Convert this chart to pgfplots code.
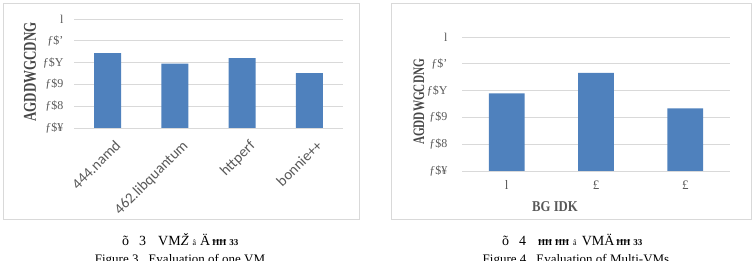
\documentclass[border=0pt]{standalone}
\usepackage{fontspec}
\setmainfont{Liberation Serif}
\newfontfamily\calfont{Carlito}
\usepackage{pgfplots}
\pgfplotsset{compat=1.18}
\definecolor{barblue}{HTML}{4F81BD}
\definecolor{gridgray}{HTML}{D9D9D9}
\definecolor{txtgray}{HTML}{595959}
\pgfplotsset{vmstyle/.style={
  scale only axis, ymin=0.95, ymax=1.0,
  ytick={0.95,0.96,0.97,0.98,0.99,1.0},
  yticklabels={ƒ\$¥,ƒ\$8,ƒ\$9,ƒ\$Y,ƒ\$',l},
  axis line style={draw=none}, tick style={draw=none},
  ymajorgrids, major grid style={gridgray, line width=0.8pt},
  yticklabel style={font=\fontsize{12}{12}\selectfont, text=txtgray, xshift=-7pt},
  ybar, bar width=0.4, bar shift=0pt,
}}
\begin{document}
\begin{tikzpicture}
\useasboundingbox (0pt,0pt) rectangle (752pt,261pt);
\draw[gridgray, line width=0.8pt] (3pt,42pt) rectangle (359pt,258pt);
\draw[gridgray, line width=0.8pt] (391pt,42pt) rectangle (751.5pt,258pt);
\begin{axis}[vmstyle, at={(74pt,133pt)}, anchor=south west, width=269pt, height=109pt,
  xmin=-0.5, xmax=3.5, xtick={0,1,2,3},
  xticklabels={444.namd,462.libquantum,httperf,bonnie++},
  xticklabel style={rotate=45, anchor=north east, font=\calfont\fontsize{15}{15}\selectfont, text=txtgray, yshift=-6pt, xshift=3pt}]
\addplot[fill=barblue, draw=none] coordinates {(0,0.9844) (1,0.9795) (2,0.9821) (3,0.9752)};
\end{axis}
\begin{axis}[vmstyle, at={(462pt,90pt)}, anchor=south west, width=268pt, height=134pt,
  xmin=-0.5, xmax=2.5, xtick={0,1,2},
  xticklabels={l,£,£},
  yticklabel style={xshift=-4pt},
  xticklabel style={font=\fontsize{13}{13}\selectfont, text=txtgray, yshift=-2pt}]
\addplot[fill=barblue, draw=none] coordinates {(0,0.9790) (1,0.9866) (2,0.9734)};
\end{axis}
\node[rotate=90, text=txtgray!80!black, font=\bfseries\fontsize{18}{18}\selectfont, inner sep=0] at (30pt,189pt) {\scalebox{0.72}[1]{AGDDWGCDNG}};
\node[rotate=90, text=txtgray!80!black, font=\bfseries\fontsize{16}{16}\selectfont, inner sep=0] at (419pt,159pt) {\scalebox{0.7}[1]{AGDDWGCDNG}};
\node[text=txtgray, font=\bfseries\fontsize{15}{15}\selectfont, inner sep=0] at (555pt,54pt) {\scalebox{0.85}[1]{BG IDK}};
\node[font=\fontsize{14}{14}\selectfont, inner sep=0, anchor=west] at (122pt,21pt) {õ\hspace{10pt}3\hspace{12pt}VM\textit{Ž}\hspace{4pt}{\footnotesize â}\hspace{4pt}Ä\hspace{2pt}{\bfseries\small ĦĦ\hspace{3pt}33}};
\node[font=\fontsize{14}{14}\selectfont, inner sep=0, anchor=west] at (502pt,21pt) {õ\hspace{10pt}4\hspace{12pt}{\bfseries\small ĦĦ\hspace{3pt}ĦĦ}\hspace{4pt}{\footnotesize â}\hspace{5pt}VMÄ\hspace{2pt}{\bfseries\small ĦĦ\hspace{3pt}33}};
\node[font=\fontsize{13}{13}\selectfont, inner sep=0, anchor=base] at (180pt,-3pt) {Figure 3\hspace{10pt}Evaluation of one VM};
\node[font=\fontsize{13}{13}\selectfont, inner sep=0, anchor=base] at (576pt,-3pt) {Figure 4\hspace{10pt}Evaluation of Multi-VMs};
\end{tikzpicture}
\end{document}
